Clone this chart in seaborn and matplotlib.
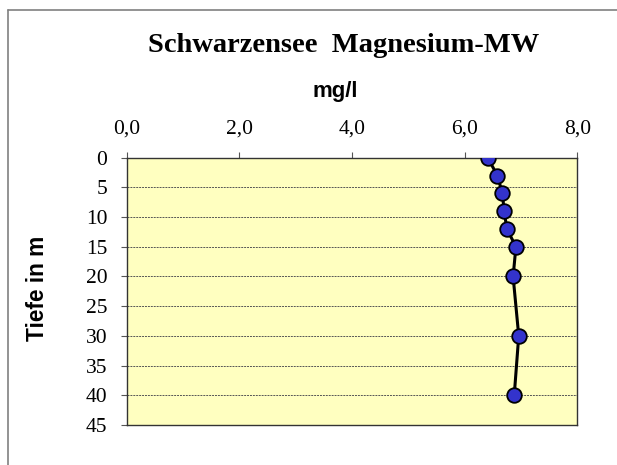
import matplotlib
matplotlib.use("Agg")
import matplotlib.pyplot as plt
import pandas as pd
import seaborn as sns
from matplotlib.lines import Line2D
from matplotlib.ticker import FuncFormatter

# Schwarzensee, Magnesium mean values by depth
depth_m = [0, 3, 6, 9, 12, 15, 20, 30, 40]
magnesium_mg_l = [6.41, 6.58, 6.67, 6.70, 6.75, 6.91, 6.86, 6.96, 6.88]

x_ticks = [0, 2, 4, 6, 8]
y_ticks = [0, 5, 10, 15, 20, 25, 30, 35, 40, 45]

df = pd.DataFrame({"depth": depth_m, "mg": magnesium_mg_l})

sns.set_style("white")
serif = ["Liberation Serif", "DejaVu Serif"]
sans = ["Liberation Sans", "DejaVu Sans"]

fig = plt.figure(figsize=(6.17, 4.65), dpi=100)
ax = fig.add_axes([0.2053, 0.086, 0.7304, 0.5749])
ax.set_facecolor("#FFFFC0")

sns.lineplot(data=df, x="mg", y="depth", sort=False, estimator=None, ax=ax,
             color="black", linewidth=2.2, marker="o", markersize=10.5,
             markerfacecolor="#3333CC", markeredgecolor="black",
             markeredgewidth=1.3, zorder=3)

ax.set_xlim(0, 8)
ax.set_ylim(45, 0)
ax.set_xticks(x_ticks)
ax.set_yticks(y_ticks)
ax.xaxis.tick_top()
ax.xaxis.set_major_formatter(FuncFormatter(lambda v, p: f"{v:.1f}".replace(".", ",")))
ax.tick_params(axis="both", direction="out", length=4, width=0.8, color="#555555",
               labelsize=15.5, labelcolor="black", pad=10)
ax.tick_params(axis="x", top=True, bottom=False)
ax.tick_params(axis="y", left=True, right=False)
for lab in ax.get_xticklabels() + ax.get_yticklabels():
    lab.set_family(serif)

ax.yaxis.grid(True, color="#555555", linestyle=(0, (2, 1)), linewidth=0.7)
ax.xaxis.grid(False)
for s in ax.spines.values():
    s.set_visible(True)
    s.set_color("#333333")
    s.set_linewidth(1.0)

ax.set_xlabel("")
ax.set_ylabel("")

fig.text(0.557, 0.903, "Schwarzensee  Magnesium-MW", ha="center", va="center",
         fontsize=20.5, fontweight="bold", family=serif, color="black")
fig.text(0.543, 0.804, "mg/l", ha="center", va="center",
         fontsize=16, fontweight="bold", family=sans, color="black")
fig.text(0.06, 0.38, "Tiefe in m", ha="center", va="center", rotation=90,
         fontsize=16.3, fontweight="bold", family=sans, color="black")

# figure border (top and left edges visible in the crop)
fig.add_artist(Line2D([8 / 617, 1.0], [1 - 10 / 465, 1 - 10 / 465],
                      transform=fig.transFigure, color="#808080", linewidth=1.2))
fig.add_artist(Line2D([8 / 617, 8 / 617], [0, 1 - 10 / 465],
                      transform=fig.transFigure, color="#808080", linewidth=1.2))

fig.savefig("out.png", dpi=100)
